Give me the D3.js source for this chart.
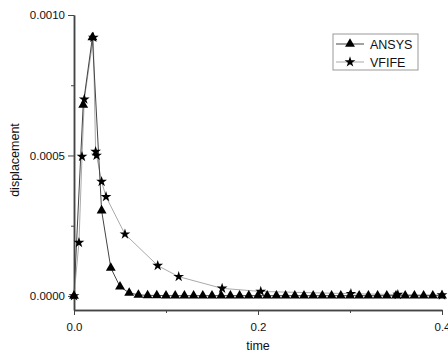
<!DOCTYPE html>
<html><head><meta charset="utf-8">
<script src="https://cdn.jsdelivr.net/npm/d3@7"></script>
<style>body{margin:0;background:#fff;}svg{display:block;font-family:"Liberation Sans",Arial,sans-serif;}</style>
</head><body><svg id="c" width="448" height="356"></svg>
<script>
const ansysTime = [0,0.01,0.02,0.03,0.04,0.05,0.06,0.07,0.08,0.09,0.10,0.11,0.12,0.13,0.14,0.15,0.16,0.17,0.18,0.19,0.20,0.21,0.22,0.23,0.24,0.25,0.26,0.27,0.28,0.29,0.30,0.31,0.32,0.33,0.34,0.35,0.36,0.37,0.38,0.39,0.40];
const ansysDisp = [0,0.00068,0.00092,0.000304,0.0001,0.000033,0.000011,0.000004,0.000002,0.000002,0.000001,0.000001,0.000001,0.000001,0.000001,0.000001,0.000001,0.000001,0.000001,0.000001,0.000001,0.000001,0.000001,0.000001,0.000001,0.000001,0.000001,0.000001,0.000001,0.000001,0.000001,0.000001,0.000001,0.000001,0.000001,0.000001,0.000001,0.000001,0.000001,0.000001,0.000001];
const vfifeTime = [0,0.0054,0.0087,0.0112,0.021,0.0235,0.0245,0.030,0.0348,0.0554,0.091,0.1138,0.161,0.203,0.301,0.352,0.40];
const vfifeDisp = [0,0.00019,0.000496,0.0007,0.00092,0.000514,0.0005,0.000407,0.000353,0.00022,0.000108,0.0000687,0.000027,0.000016,0.000008,0.000005,0.000003];
const xTicks = [0,0.2,0.4];
const xMinor = [0.1,0.3];
const yTicks = [0,0.0005,0.0010];
const yMinor = [0.00025,0.00075];

const svg = d3.select("#c");
const x = d3.scaleLinear().domain([0,0.4]).range([74,442]);
const y = d3.scaleLinear().domain([-0.00005,0.0010]).range([310,15]);

// axes
const xa = svg.append("g").attr("transform","translate(0,310)");
xa.call(d3.axisBottom(x).tickValues(xTicks).tickFormat(d3.format(".1f")).tickSize(5).tickSizeOuter(0));
xa.append("g").call(d3.axisBottom(x).tickValues(xMinor).tickFormat("").tickSize(3).tickSizeOuter(0));
const ya = svg.append("g").attr("transform","translate(74,0)");
ya.call(d3.axisLeft(y).tickValues(yTicks).tickFormat(d3.format(".4f")).tickSize(6).tickSizeOuter(0));
ya.append("g").call(d3.axisLeft(y).tickValues(yMinor).tickFormat("").tickSize(3).tickSizeOuter(0));
svg.selectAll(".domain").attr("stroke","#444").attr("stroke-width",1.5);
svg.selectAll(".tick line").attr("stroke","#444");
svg.selectAll(".tick text").attr("font-size",11.5).attr("fill","#111").attr("font-family","Liberation Sans, Arial, sans-serif");
xa.selectAll(".tick text").attr("dy","1.1em");

svg.append("text").attr("x",258).attr("y",350).attr("text-anchor","middle").attr("font-size",12.5).attr("fill","#111").text("time");
svg.append("text").attr("transform","translate(19,160) rotate(-90)").attr("text-anchor","middle").attr("font-size",12.5).attr("fill","#111").text("displacement");

const line = d3.line().x(d=>x(d[0])).y(d=>y(d[1]));
const vData = vfifeTime.map((t,i)=>[t,vfifeDisp[i]]);
const aData = ansysTime.map((t,i)=>[t,ansysDisp[i]]);

svg.append("path").datum(vData).attr("d",line).attr("fill","none").attr("stroke","#aaa").attr("stroke-width",1);
svg.append("path").datum(aData).attr("d",line).attr("fill","none").attr("stroke","#444").attr("stroke-width",1);

const tri = d3.symbol().type(d3.symbolTriangle).size(42);
const star = d3.symbol().type(d3.symbolStar).size(36);
svg.append("g").selectAll("path").data(aData).join("path")
  .attr("transform",d=>`translate(${x(d[0])},${y(d[1])})`).attr("d",tri).attr("fill","#000");
svg.append("g").selectAll("path").data(vData).join("path")
  .attr("transform",d=>`translate(${x(d[0])},${y(d[1])})`).attr("d",star).attr("fill","#000");

// legend
const lg = svg.append("g");
lg.append("rect").attr("x",333).attr("y",34).attr("width",85).attr("height",36).attr("fill","#fff").attr("stroke","#999").attr("stroke-width",1);
const items = [["ANSYS",tri,"#444",44],["VFIFE",star,"#aaa",62]];
items.forEach(([name,sym,col,yy])=>{
  lg.append("line").attr("x1",336).attr("x2",364).attr("y1",yy).attr("y2",yy).attr("stroke",col).attr("stroke-width",1);
  lg.append("path").attr("transform",`translate(350,${yy})`).attr("d",sym).attr("fill","#000");
  lg.append("text").attr("x",370).attr("y",yy+4.5).attr("font-size",12.5).attr("fill","#111").text(name);
});
</script></body></html>
